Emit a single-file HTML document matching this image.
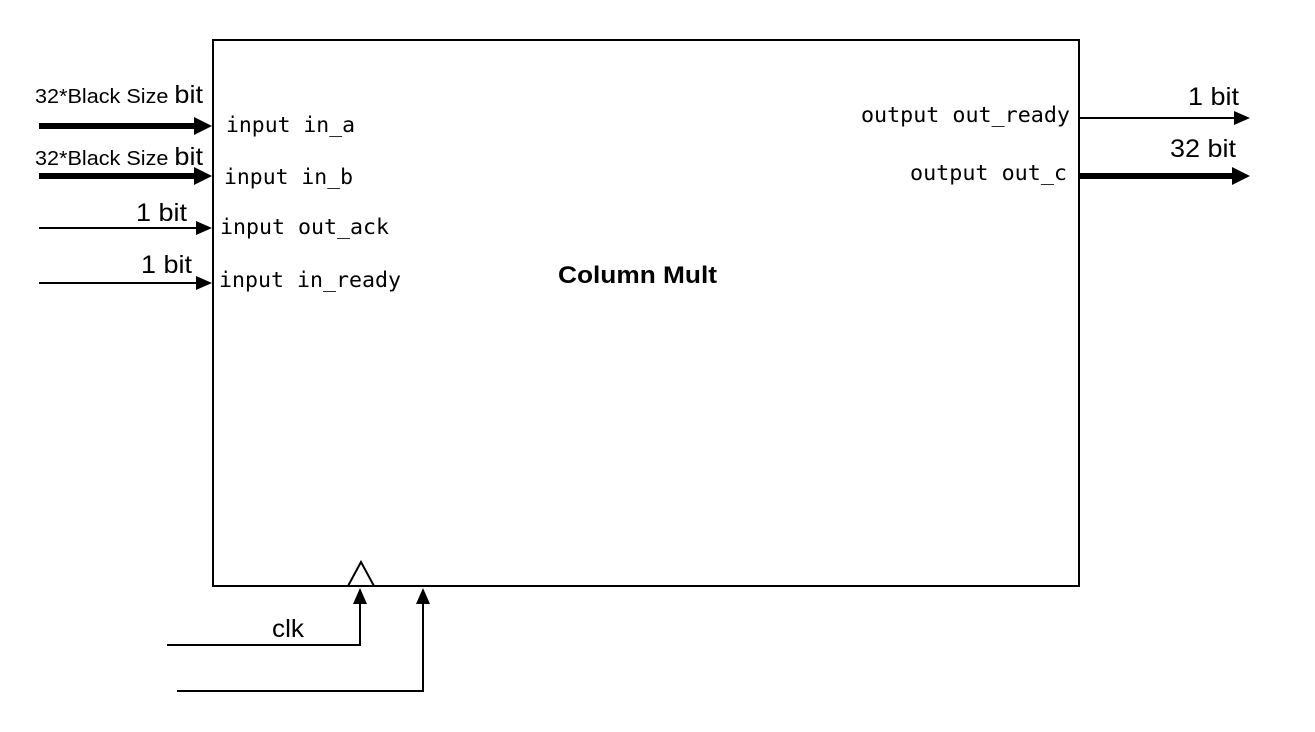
<!DOCTYPE html>
<html><head><style>
body{margin:0;background:#fff;width:1315px;height:727px;overflow:hidden}
.m{font-family:"DejaVu Sans Mono","Liberation Mono",monospace;font-size:21.5px;fill:#000}
.s{font-family:"Liberation Sans",sans-serif;font-size:25px;fill:#000}
</style></head><body>
<svg width="1315" height="727" xmlns="http://www.w3.org/2000/svg">
<rect x="213" y="40" width="866" height="546" fill="none" stroke="#000" stroke-width="2"/>
<!-- inputs -->
<line x1="39" y1="126" x2="196" y2="126" stroke="#000" stroke-width="6"/>
<path d="M194,117 L212,126 L194,135 z"/>
<line x1="39" y1="176" x2="196" y2="176" stroke="#000" stroke-width="6"/>
<path d="M194,167 L212,176 L194,185 z"/>
<line x1="39" y1="228" x2="200" y2="228" stroke="#000" stroke-width="2"/>
<path d="M196,221 L212,228 L196,235 z"/>
<line x1="39" y1="283" x2="200" y2="283" stroke="#000" stroke-width="2"/>
<path d="M196,276 L212,283 L196,290 z"/>
<text class="s" x="35" y="103" style="font-size:20px" textLength="168" lengthAdjust="spacingAndGlyphs">32*Black Size <tspan style="font-size:25px">bit</tspan></text>
<text class="s" x="35" y="165" style="font-size:20px" textLength="168" lengthAdjust="spacingAndGlyphs">32*Black Size <tspan style="font-size:25px">bit</tspan></text>
<text class="s" x="136" y="221" textLength="51" lengthAdjust="spacingAndGlyphs">1 bit</text>
<text class="s" x="141" y="273" textLength="51" lengthAdjust="spacingAndGlyphs">1 bit</text>
<text class="m" x="226" y="132" textLength="129" lengthAdjust="spacingAndGlyphs">input in_a</text>
<text class="m" x="224" y="184" textLength="129" lengthAdjust="spacingAndGlyphs">input in_b</text>
<text class="m" x="220" y="234" textLength="169" lengthAdjust="spacingAndGlyphs">input out_ack</text>
<text class="m" x="219" y="287" textLength="182" lengthAdjust="spacingAndGlyphs">input in_ready</text>
<!-- outputs -->
<line x1="1080" y1="118" x2="1236" y2="118" stroke="#000" stroke-width="2"/>
<path d="M1234,111 L1250,118 L1234,125 z"/>
<line x1="1080" y1="176" x2="1234" y2="176" stroke="#000" stroke-width="6"/>
<path d="M1232,167 L1250,176 L1232,185 z"/>
<text class="s" x="1188" y="105" textLength="51" lengthAdjust="spacingAndGlyphs">1 bit</text>
<text class="s" x="1170" y="157" textLength="66" lengthAdjust="spacingAndGlyphs">32 bit</text>
<text class="m" x="861" y="122" textLength="209" lengthAdjust="spacingAndGlyphs">output out_ready</text>
<text class="m" x="910" y="180" textLength="157" lengthAdjust="spacingAndGlyphs">output out_c</text>
<text x="558" y="283" textLength="159" lengthAdjust="spacingAndGlyphs" style="font-family:'Liberation Sans',sans-serif;font-weight:bold;font-size:24px">Column Mult</text>
<!-- clock -->
<path d="M348,586 L361,562 L374,586 z" fill="#fff" stroke="#000" stroke-width="2"/>
<polyline points="167,645 360,645 360,603" fill="none" stroke="#000" stroke-width="2"/>
<path d="M353,604 L360,588 L367,604 z"/>
<polyline points="177,691 423,691 423,603" fill="none" stroke="#000" stroke-width="2"/>
<path d="M416,604 L423,588 L430,604 z"/>
<text class="s" x="272" y="637" textLength="32" lengthAdjust="spacingAndGlyphs">clk</text>
</svg>
</body></html>
